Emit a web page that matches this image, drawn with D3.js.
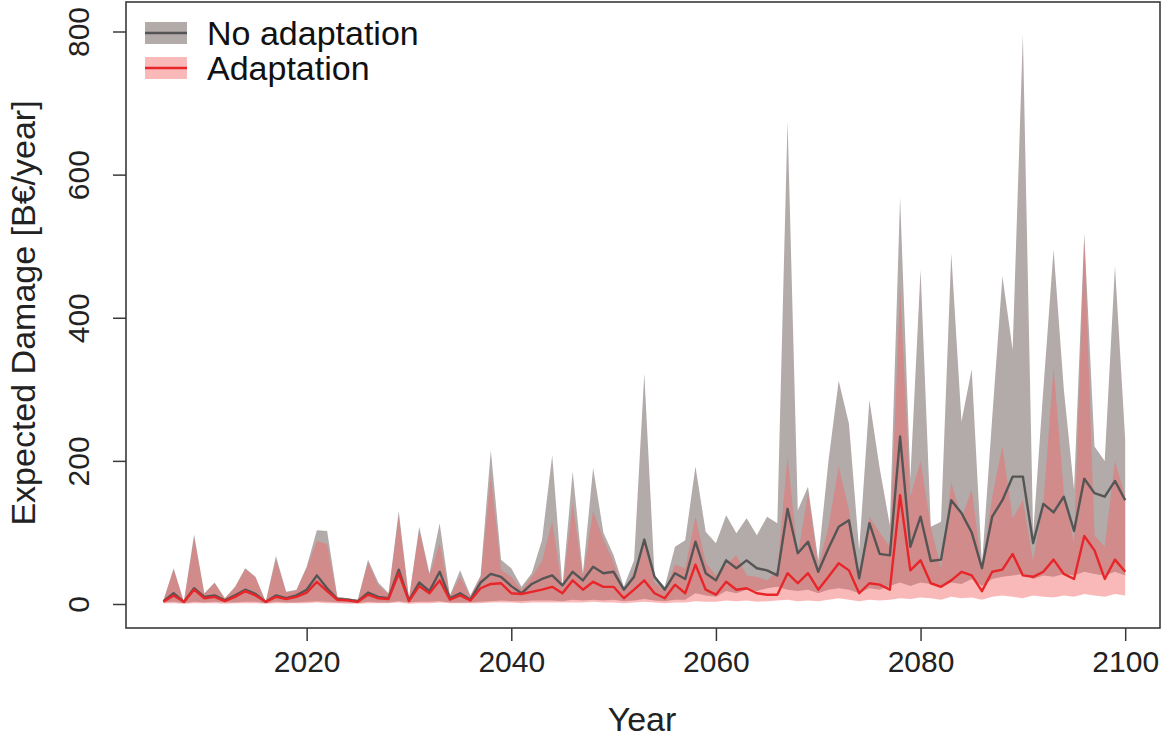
<!DOCTYPE html>
<html>
<head>
<meta charset="utf-8">
<script src="https://cdn.jsdelivr.net/npm/d3@7"></script>
<style>
html,body{margin:0;padding:0;background:#fff;}
svg{display:block;font-family:"Liberation Sans",Arial,Helvetica,sans-serif;}
</style>
</head>
<body>
<svg id="chart" width="1162" height="741"></svg>
<script>
const startYear = 2006;
const endYear = 2100;

// No adaptation: upper bound, median, lower bound
const noAdaptUpper = [5,50,3,97,15,30,8,24,50,38,3,67,17,20,52,103,102,10,8,6,62,30,15,130,8,108,43,113,12,47,12,40,215,62,50,24,43,89,208,24,185,43,190,100,68,24,61,322,40,24,80,89,192,101,85,124,99,120,96,122,113,675,131,164,61,200,312,252,75,285,190,110,568,175,467,108,115,490,255,328,55,260,458,355,795,98,300,495,300,160,518,220,200,472,230];
const noAdaptMedian = [4,15,3,22,10,12,5,12,20,14,3,12,8,12,20,40,22,7,6,4,16,10,8,48,5,30,18,45,8,15,6,30,42,38,25,15,28,35,40,26,45,33,52,43,45,20,38,90,38,20,43,35,87,43,33,61,50,61,50,47,40,133,71,87,45,78,108,117,36,113,70,68,234,80,122,60,62,145,127,100,50,122,145,178,178,85,140,128,150,102,175,155,150,172,145];
const noAdaptLower = [2,3,1,3,2,3,2,2,3,3,1,3,2,2,3,4,3,2,2,1,3,2,2,4,2,3,3,4,2,2,2,3,4,5,4,4,5,5,5,4,6,5,6,5,6,4,5,7,5,4,6,6,15,12,10,18,15,20,18,22,24,20,18,20,15,20,22,20,15,22,20,25,30,25,30,28,25,30,28,35,25,35,38,40,42,35,40,38,42,40,45,42,40,45,40];

// Adaptation: upper bound, median, lower bound
const adaptUpper = [5,48,3,92,14,29,8,23,49,37,3,62,16,19,50,88,84,9,8,6,58,26,14,122,8,102,40,85,11,38,11,36,180,48,38,20,38,60,115,20,140,38,130,90,58,18,45,88,30,18,55,50,122,58,40,55,68,40,38,33,47,205,68,155,52,108,192,131,40,122,100,80,440,150,200,108,50,170,120,160,50,150,220,120,145,60,140,330,156,85,510,96,80,200,150];
const adaptMedian = [3,12,3,20,8,10,4,10,18,12,3,10,7,10,16,31,18,6,5,3,13,8,7,43,4,25,15,33,6,12,5,22,28,29,15,14,17,20,24,15,33,20,31,24,24,8,20,33,15,8,27,15,55,20,13,31,20,22,15,13,13,43,29,43,20,38,57,47,15,29,27,20,152,47,61,29,24,33,45,40,18,45,48,70,40,38,45,62,42,35,95,75,35,62,45];
const adaptLower = [1,1,0.5,1,1,1,0.5,1,1,1,0.5,1,1,1,1,2,1,1,0.5,0.5,1,1,1,2,0.5,1,1,2,1,1,1,1,2,2,2,1,2,2,2,2,2,2,3,2,2,1,2,3,2,1,2,2,4,3,3,5,4,5,3,4,5,6,4,5,4,6,8,6,4,6,5,6,8,7,9,8,6,10,8,9,6,10,12,10,8,12,10,9,12,10,14,12,10,14,12];

const xTicks = [2020,2040,2060,2080,2100];
const yTicks = [0,200,400,600,800];
const seriesNames = ["No adaptation","Adaptation"];
const xTitle = "Year";
const yTitle = "Expected Damage [B\u20AC/year]";

const years = d3.range(startYear, endYear + 1);
const noAdapt = years.map((yr,i) => ({year: yr, lo: noAdaptLower[i], mid: noAdaptMedian[i], hi: noAdaptUpper[i]}));
const adapt = years.map((yr,i) => ({year: yr, lo: adaptLower[i], mid: adaptMedian[i], hi: adaptUpper[i]}));

const svg = d3.select("#chart");
const box = {left: 126, right: 1160, top: 2, bottom: 628};

const x = d3.scaleLinear().domain([2006, 2100]).range([163.4, 1125.2]);
const y = d3.scaleLinear().domain([0, 800]).range([604, 31.5]);

const grayFill = "#b3aaaa";
const redFill = "rgba(244,103,103,0.46)";
const grayLine = "#555555";
const redLine = "#e8262a";

const area = d3.area().x(d => x(d.year)).y0(d => y(d.lo)).y1(d => y(d.hi));
const line = d3.line().x(d => x(d.year)).y(d => y(d.mid));

const plot = svg.append("g");
plot.append("path").datum(noAdapt).attr("d", area).attr("fill", grayFill);
plot.append("path").datum(adapt).attr("d", area).attr("fill", redFill);
plot.append("path").datum(noAdapt).attr("d", line).attr("fill", "none")
  .attr("stroke", grayLine).attr("stroke-width", 2.4).attr("stroke-linejoin", "round");
plot.append("path").datum(adapt).attr("d", line).attr("fill", "none")
  .attr("stroke", redLine).attr("stroke-width", 2.4).attr("stroke-linejoin", "round");

// frame
svg.append("rect").attr("x", box.left).attr("y", box.top)
  .attr("width", box.right - box.left).attr("height", box.bottom - box.top)
  .attr("fill", "none").attr("stroke", "#3a3a3a").attr("stroke-width", 1.6);

// x axis
const xAxis = d3.axisBottom(x).tickValues(xTicks).tickSize(13).tickPadding(10).tickFormat(d3.format("d"));
const gx = svg.append("g").attr("transform", `translate(0,${box.bottom})`).call(xAxis);
gx.select(".domain").remove();
gx.selectAll(".tick line").attr("stroke", "#3a3a3a").attr("stroke-width", 1.5);
gx.selectAll(".tick text").attr("font-size", 30).attr("fill", "#222")
  .attr("font-family", "Liberation Sans, Arial, sans-serif");

// y axis
const yAxis = d3.axisLeft(y).tickValues(yTicks).tickSize(13).tickFormat(d3.format("d"));
const gy = svg.append("g").attr("transform", `translate(${box.left},0)`).call(yAxis);
gy.select(".domain").remove();
gy.selectAll(".tick line").attr("stroke", "#3a3a3a").attr("stroke-width", 1.5);
gy.selectAll(".tick text")
  .attr("font-size", 30).attr("fill", "#222")
  .attr("font-family", "Liberation Sans, Arial, sans-serif")
  .attr("text-anchor", "middle").attr("dy", null)
  .attr("x", null)
  .attr("transform", "translate(-37,0) rotate(-90)");

// axis titles
svg.append("text").attr("x", 642).attr("y", 731).attr("text-anchor", "middle")
  .attr("font-size", 34).attr("fill", "#222").text(xTitle);
svg.append("text").attr("transform", "translate(35,313) rotate(-90)")
  .attr("text-anchor", "middle").attr("font-size", 34).attr("fill", "#222").text(yTitle);

// legend
const legend = svg.append("g");
const legendItems = [
  {name: seriesNames[0], fill: grayFill, stroke: grayLine, cy: 33},
  {name: seriesNames[1], fill: redFill, stroke: redLine, cy: 68}
];
legendItems.forEach(it => {
  legend.append("rect").attr("x", 145).attr("y", it.cy - 11).attr("width", 42).attr("height", 22).attr("fill", it.fill);
  legend.append("line").attr("x1", 145).attr("x2", 187).attr("y1", it.cy).attr("y2", it.cy)
    .attr("stroke", it.stroke).attr("stroke-width", 2.4);
  legend.append("text").attr("x", 207).attr("y", it.cy + 12).attr("font-size", 34).attr("fill", "#111").text(it.name);
});
</script>
</body>
</html>
